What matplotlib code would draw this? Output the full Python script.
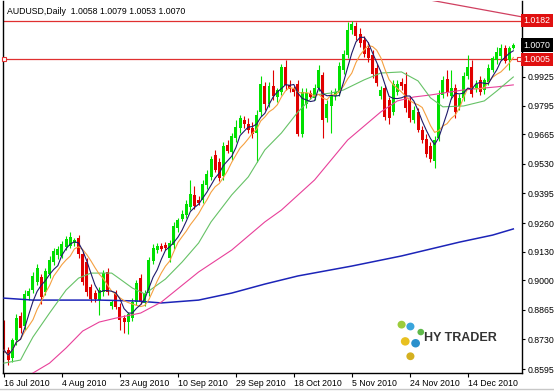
import matplotlib
matplotlib.use('Agg')
import matplotlib.pyplot as plt
from matplotlib.lines import Line2D
import numpy as np
import pandas as pd

plt.rcParams['font.family'] = ['Liberation Sans', 'DejaVu Sans']

title = 'AUDUSD,Daily  1.0058 1.0079 1.0053 1.0070'

# daily candles, 16 Jul 2010 .. 28 Dec 2010
opens = [0.8804, 0.8681, 0.8645, 0.8727, 0.8836, 0.8791, 0.8927, 0.8955, 0.8991, 0.9014,
         0.8946, 0.9028, 0.9082, 0.9114, 0.9110, 0.9151, 0.9155, 0.9169, 0.9192, 0.9119,
         0.9082, 0.8968, 0.8941, 0.8909, 0.8946, 0.9037, 0.8882, 0.8941, 0.8877, 0.8827,
         0.8809, 0.8827, 0.8900, 0.9009, 0.8896, 0.8941, 0.9087, 0.9137, 0.9155, 0.9160,
         0.9101, 0.9160, 0.9237, 0.9278, 0.9297, 0.9333, 0.9388, 0.9365, 0.9365, 0.9433,
         0.9470, 0.9570, 0.9538, 0.9474, 0.9615, 0.9583, 0.9647, 0.9693, 0.9729, 0.9711,
         0.9693, 0.9670, 0.9766, 0.9884, 0.9802, 0.9884, 0.9834, 0.9857, 0.9971, 0.9889,
         0.9871, 0.9893, 0.9666, 0.9802, 0.9852, 0.9830, 0.9875, 0.9934, 0.9738, 0.9793,
         0.9839, 0.9852, 0.9957, 1.0025, 1.0139, 1.0158, 1.0121, 1.0094, 1.0057, 1.0025,
         0.9966, 0.9839, 0.9875, 0.9820, 0.9766, 0.9857, 0.9902, 0.9893, 0.9820, 0.9729,
         0.9766, 0.9684, 0.9643, 0.9611, 0.9542, 0.9647, 0.9843, 0.9916, 0.9839, 0.9875,
         0.9793, 0.9830, 0.9930, 0.9971, 0.9875, 0.9912, 0.9866, 0.9902, 0.9957, 1.0003,
         1.0021, 1.0057, 1.0003, 1.0058]
highs = [0.8818, 0.8695, 0.8736, 0.8845, 0.8855, 0.8955, 0.8964, 0.9037, 0.9073, 0.9028,
         0.9055, 0.9110, 0.9146, 0.9155, 0.9178, 0.9201, 0.9219, 0.9192, 0.9205, 0.9128,
         0.9101, 0.8982, 0.8955, 0.8968, 0.9046, 0.9055, 0.8909, 0.8955, 0.8896, 0.8841,
         0.8855, 0.8918, 0.9000, 0.9028, 0.8955, 0.9105, 0.9164, 0.9169, 0.9169, 0.9173,
         0.9183, 0.9265, 0.9283, 0.9319, 0.9365, 0.9456, 0.9429, 0.9383, 0.9456, 0.9501,
         0.9565, 0.9593, 0.9556, 0.9629, 0.9638, 0.9670, 0.9729, 0.9752, 0.9748, 0.9738,
         0.9720, 0.9775, 0.9930, 0.9902, 0.9902, 0.9957, 0.9875, 0.9984, 1.0003, 0.9912,
         0.9884, 0.9912, 0.9875, 0.9875, 0.9866, 0.9893, 0.9980, 0.9948, 0.9820, 0.9866,
         0.9875, 0.9994, 1.0048, 1.0176, 1.0182, 1.0176, 1.0148, 1.0112, 1.0085, 1.0048,
         0.9984, 0.9884, 0.9889, 0.9834, 0.9912, 0.9912, 0.9921, 0.9948, 0.9839, 0.9793,
         0.9784, 0.9702, 0.9666, 0.9629, 0.9656, 0.9866, 0.9930, 0.9957, 0.9957, 0.9893,
         0.9848, 0.9948, 1.0025, 1.0003, 0.9912, 0.9930, 0.9921, 0.9984, 1.0021, 1.0062,
         1.0076, 1.0071, 1.0066, 1.0079]
lows = [0.8672, 0.8613, 0.8627, 0.8704, 0.8759, 0.8773, 0.8909, 0.8941, 0.8978, 0.8891,
        0.8932, 0.9009, 0.9069, 0.9096, 0.9101, 0.9137, 0.9146, 0.9155, 0.9101, 0.8978,
        0.8927, 0.8900, 0.8900, 0.8841, 0.8927, 0.8932, 0.8868, 0.8868, 0.8773, 0.8759,
        0.8754, 0.8814, 0.8886, 0.8891, 0.8882, 0.8927, 0.9073, 0.9123, 0.9132, 0.9137,
        0.9082, 0.9142, 0.9219, 0.9269, 0.9283, 0.9319, 0.9324, 0.9342, 0.9351, 0.9415,
        0.9456, 0.9492, 0.9451, 0.9456, 0.9579, 0.9547, 0.9629, 0.9670, 0.9693, 0.9670,
        0.9647, 0.9538, 0.9748, 0.9775, 0.9789, 0.9820, 0.9811, 0.9843, 0.9866, 0.9857,
        0.9839, 0.9656, 0.9652, 0.9784, 0.9825, 0.9820, 0.9861, 0.9647, 0.9720, 0.9670,
        0.9820, 0.9839, 0.9939, 1.0012, 1.0121, 1.0094, 1.0062, 1.0016, 0.9994, 0.9921,
        0.9884, 0.9825, 0.9729, 0.9711, 0.9752, 0.9843, 0.9866, 0.9766, 0.9720, 0.9716,
        0.9675, 0.9625, 0.9561, 0.9538, 0.9511, 0.9634, 0.9830, 0.9839, 0.9825, 0.9738,
        0.9775, 0.9816, 0.9916, 0.9834, 0.9857, 0.9843, 0.9848, 0.9889, 0.9948, 0.9984,
        1.0003, 0.9989, 0.9957, 1.0053]
closes = [0.8681, 0.8636, 0.8727, 0.8827, 0.8782, 0.8937, 0.8950, 0.9019, 0.9055, 0.8923,
          0.9041, 0.9091, 0.9132, 0.9142, 0.9164, 0.9187, 0.9196, 0.9183, 0.9119, 0.8991,
          0.8946, 0.8914, 0.8914, 0.8955, 0.9032, 0.8946, 0.8900, 0.8877, 0.8818, 0.8809,
          0.8845, 0.8900, 0.8987, 0.8900, 0.8941, 0.9091, 0.9146, 0.9155, 0.9142, 0.9146,
          0.9169, 0.9246, 0.9274, 0.9301, 0.9347, 0.9392, 0.9338, 0.9351, 0.9438, 0.9483,
          0.9552, 0.9501, 0.9465, 0.9611, 0.9588, 0.9656, 0.9697, 0.9738, 0.9711, 0.9684,
          0.9666, 0.9752, 0.9893, 0.9802, 0.9884, 0.9839, 0.9866, 0.9971, 0.9889, 0.9871,
          0.9857, 0.9666, 0.9857, 0.9852, 0.9834, 0.9875, 0.9957, 0.9729, 0.9802, 0.9843,
          0.9857, 0.9975, 1.0030, 1.0139, 1.0167, 1.0112, 1.0080, 1.0030, 1.0012, 0.9939,
          0.9898, 0.9866, 0.9743, 0.9738, 0.9893, 0.9893, 0.9884, 0.9784, 0.9738, 0.9775,
          0.9684, 0.9638, 0.9574, 0.9552, 0.9638, 0.9843, 0.9912, 0.9857, 0.9875, 0.9766,
          0.9830, 0.9930, 0.9971, 0.9848, 0.9893, 0.9857, 0.9912, 0.9966, 1.0012, 1.0039,
          1.0057, 0.9998, 1.0057, 1.0070]

# slower averages (bar index, price)
green_x = [0, 4, 5, 7, 11, 15, 18, 21, 26, 28, 31, 34, 39, 43, 47, 50, 55, 59, 63, 67,
           71, 75, 79, 82, 87, 91, 96, 100, 103, 106, 111, 116, 119, 123]
green_y = [0.8622, 0.8636, 0.8672, 0.8741, 0.8850, 0.8955, 0.9009, 0.9032, 0.9032, 0.9005,
           0.8964, 0.8937, 0.9005, 0.9082, 0.9169, 0.9265, 0.9388, 0.9470, 0.9593, 0.9670,
           0.9766, 0.9843, 0.9852, 0.9866, 0.9912, 0.9943, 0.9948, 0.9907, 0.9830, 0.9789,
           0.9793, 0.9816, 0.9861, 0.9925]
pink_x = [6, 7, 11, 15, 19, 23, 27, 33, 38, 47, 55, 63, 67, 75, 83, 91, 95, 99, 103, 111, 119, 123]
pink_y = [0.8563, 0.8577, 0.8622, 0.8691, 0.8768, 0.8809, 0.8827, 0.8850, 0.8900, 0.9037,
          0.9137, 0.9265, 0.9319, 0.9456, 0.9638, 0.9766, 0.9816, 0.9834, 0.9843, 0.9866,
          0.9880, 0.9889]
blue_x = [0, 7, 23, 32, 38, 47, 55, 63, 71, 84, 96, 110, 118, 123]
blue_y = [0.8918, 0.8909, 0.8909, 0.8905, 0.8896, 0.8909, 0.8941, 0.8982, 0.9019, 0.9064,
          0.9110, 0.9173, 0.9205, 0.9233]

trend_x = [103, 125]
trend_y = [1.0275, 1.0199]
level_top = 1.0182
level_mid = 1.0005
last_price = 1.0070

date_pos = [0, 14, 28, 42, 56, 70, 84, 98, 112]
date_labels = ['16 Jul 2010', '4 Aug 2010', '23 Aug 2010', '10 Sep 2010', '29 Sep 2010',
               '18 Oct 2010', '5 Nov 2010', '24 Nov 2010', '14 Dec 2010']
price_ticks = [0.8595, 0.8730, 0.8865, 0.9000, 0.9130, 0.9260, 0.9395, 0.9530,
               0.9665, 0.9795, 0.9925]

fig = plt.figure(figsize=(5.54, 3.91), dpi=100)
ax = fig.add_axes([3/554, 18/391, 519/554, 372/391])

x = np.arange(len(closes))
o = np.array(opens)
h = np.array(highs)
l = np.array(lows)
c = np.array(closes)
col = np.where(c >= o, '#00e000', '#e00000')

ax.vlines(x, l, h, colors=col, linewidth=0.8, zorder=2)
ax.bar(x, np.maximum(np.abs(c - o), 0.0004), bottom=np.minimum(o, c), width=0.72,
       color=col, linewidth=0, zorder=2)

s = pd.Series(c)
ax.plot(blue_x, blue_y, color='#1c24b8', lw=1.1, zorder=3)
ax.plot(pink_x, pink_y, color='#e8409a', lw=0.8, zorder=3)
ax.plot(green_x, green_y, color='#66c266', lw=0.8, zorder=3)
ax.plot(x, s.rolling(8, min_periods=1).mean(), color='#f5a040', lw=0.8, zorder=3)
ax.plot(x, s.rolling(5, min_periods=1).mean(), color='#1e1a6a', lw=0.8, zorder=4)

ax.axhline(level_top, color='#e03030', lw=0.9, zorder=1)
ax.axhline(level_mid, color='#e03030', lw=0.9, zorder=1)
ax.plot([0, 124.3], [level_mid, level_mid], ls='none', marker='s', ms=3.5,
        mfc='white', mec='#e03030', mew=0.8, zorder=5, clip_on=False)
ax.plot(trend_x, trend_y, color='#d04060', lw=0.9, zorder=1)

ax.set_xlim(-0.24, 125.1)
ax.set_ylim(0.8577, 1.0271)

ax.spines['top'].set_visible(False)
for side in ['left', 'bottom', 'right']:
    ax.spines[side].set_color('#000000')
    ax.spines[side].set_linewidth(1.0)

ax.set_xticks(date_pos)
ax.set_xticklabels(date_labels, ha='left', fontsize=6.3)
ax.tick_params(axis='x', length=3, width=0.8, pad=1.5)
ax.yaxis.tick_right()
ax.set_yticks(price_ticks)
ax.set_yticklabels(['%.4f' % p for p in price_ticks], fontsize=6.3)
ax.tick_params(axis='y', length=2.5, width=0.8, pad=1.5)

trans = ax.get_yaxis_transform()
for val, bg in [(level_top, '#e01010'), (last_price, '#000000'), (level_mid, '#e01010')]:
    ax.text(1.003, val, '%.4f' % val, transform=trans, fontsize=6.3, color='white',
            va='center', ha='left',
            bbox=dict(boxstyle='square,pad=0.25', fc=bg, ec='none'))

ax.text(0.008, 0.985, title, transform=ax.transAxes, fontsize=6.3, va='top', ha='left')

# watermark logo
ax.text(0.812, 0.095, 'HY TRADER', transform=ax.transAxes, fontsize=9, fontweight='bold',
        color='#333333', va='center', ha='left')
for cx, cy, r, fc in [(0.768, 0.13, 0.012, '#9ccc3c'), (0.785, 0.125, 0.012, '#3aa5dc'),
                      (0.775, 0.085, 0.013, '#e8c020'), (0.795, 0.08, 0.013, '#2a90cc'),
                      (0.805, 0.11, 0.010, '#5fb94a'), (0.785, 0.045, 0.012, '#d4b020')]:
    ax.add_patch(matplotlib.patches.Ellipse((cx, cy), r * 1.3, r * 1.3 * 554 / 391 * 0.95,
                                            transform=ax.transAxes, fc=fc, ec='none', zorder=6))

fig.add_artist(Line2D([0, 1], [2/391, 2/391], color='#c8c8c8', lw=1))

fig.savefig('out.png', dpi=100)
